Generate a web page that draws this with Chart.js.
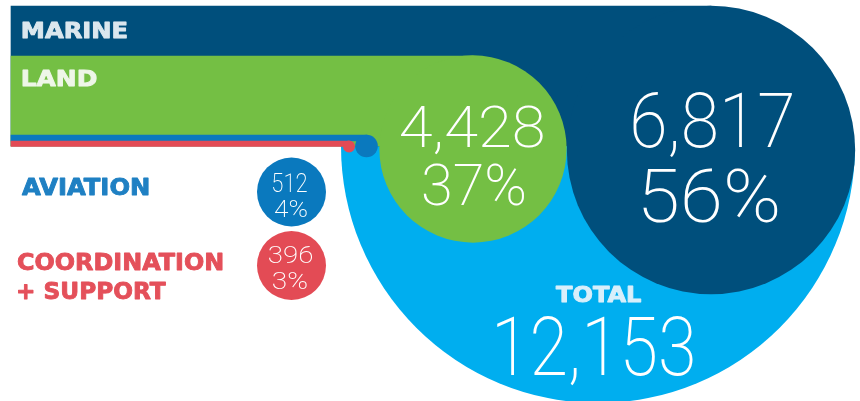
<!DOCTYPE html>
<html>
<head>
<meta charset="utf-8">
<script src="https://cdn.jsdelivr.net/npm/chart.js@4.4.1/dist/chart.umd.min.js"></script>
<style>
  html, body { margin: 0; padding: 0; background: #fff; }
  #wrap { width: 860px; height: 401px; position: relative; }
</style>
</head>
<body>
<div id="wrap"><canvas id="chart"></canvas></div>
<script>
// ---- data ----
const categories = ['Marine', 'Land', 'Aviation', 'Coordination + Support'];
const labelLines = [['MARINE'], ['LAND'], ['AVIATION'], ['COORDINATION', '+ SUPPORT']];
const personnel = [6817, 4428, 512, 396];
const percentLabels = ['56%', '37%', '4%', '3%'];
const totalLabel = 'TOTAL';
const totalValue = 12153;

// ---- styles ----
const fillColors = ['#004f7c', '#74bf44', '#0a79be', '#e34b55'];
const labelColors = ['#dbe7ee', '#eef6e8', '#1f80c3', '#e4505a'];
const totalColor = '#00aeef';
const totalTextColor = '#d8effb';
const LABEL_FONT = '"DejaVu Sans", sans-serif';
const NUM_FONT = 'Roboto, sans-serif';
const NUM_WEIGHT = '200';

// ---- layout (the scales run 1:1 with the 860x401 page) ----
const TOTAL_R = 257;                       // total circle radius, marine/land scale from it
const totalCenter = { x: 598, y: 146 };    // only the lower half is shown
const bigCenters = [{ x: 711, y: 150 }, { x: 473, y: 149 }];
const bandBoxes = [
  { x0: 11, y0: 6, y1: 146 },              // marine band runs into its circle
  { x0: 11, y0: 56, y1: 146 },             // land band
  { x0: 11, x1: 367, y0: 135, y1: 141 },   // aviation line
  { x0: 11, x1: 349, y0: 141, y1: 146.5 }  // coordination line
];
const lineDots = [null, null, { x: 366.5, y: 146, r: 11.3 }, { x: 349, y: 146.5, r: 6 }];
const badges = [null, null, { x: 291.5, y: 192, r: 34.5 }, { x: 291.5, y: 265.5, r: 34.5 }];

// ink boxes for text: [x0, x1, baseline, font size]
const labelBoxes = [[[23, 127, 38, 22]], [[23, 97, 86, 22]], [[22, 149, 195, 23]],
                    [[18, 223, 270, 23], [18, 166, 299, 23]]];
const valueBoxes = [[633, 792, 147, 76], [401, 543, 147, 57], [273, 307, 192, 25], [269, 312, 263, 24]];
const pctBoxes = [[643, 778, 222, 74], [423, 525, 205, 58], [274, 307, 217, 24], [273, 307, 289, 24]];
const totalValueBox = [497, 693, 375, 82];
const totalLabelBox = [556, 641, 302, 21];

function radiusFor(v) {
  return v / totalValue * TOTAL_R;
}

function bubble(label, pt, r, color) {
  return {
    type: 'bubble', label: label,
    data: [{ x: pt.x, y: pt.y, r: r }],
    backgroundColor: color, borderWidth: 0, hoverRadius: 0, hitRadius: 0, clip: false
  };
}

function band(label, box, x1, color) {
  return {
    type: 'bar', label: label, indexAxis: 'y', grouped: false,
    barThickness: box.y1 - box.y0,
    data: [{ x: [box.x0, x1], y: (box.y0 + box.y1) / 2 }],
    backgroundColor: color, borderWidth: 0, borderRadius: 0, clip: false
  };
}

// layers listed bottom to top
const layers = [bubble(totalLabel, totalCenter, TOTAL_R, totalColor)];
for (let i = 0; i < 2; i++) {
  layers.push(band(categories[i] + ' band', bandBoxes[i], bigCenters[i].x, fillColors[i]));
  layers.push(bubble(categories[i], bigCenters[i], radiusFor(personnel[i]), fillColors[i]));
}
for (let i = 2; i < 4; i++) {
  layers.push(band(categories[i] + ' line', bandBoxes[i], bandBoxes[i].x1, fillColors[i]));
}
for (let i = 2; i < 4; i++) {
  layers.push(bubble(categories[i] + ' dot', lineDots[i], lineDots[i].r, fillColors[i]));
}
for (let i = 2; i < 4; i++) {
  layers.push(bubble(categories[i], badges[i], badges[i].r, fillColors[i]));
}
layers.forEach((d, i) => { d.order = layers.length - i; });

// show only the lower half of the total circle
const halfClip = {
  id: 'halfClip',
  beforeDatasetDraw(chart, args) {
    if (chart.data.datasets[args.index].label !== totalLabel) return;
    const y = chart.scales.y.getPixelForValue(totalCenter.y);
    chart.ctx.save();
    chart.ctx.beginPath();
    chart.ctx.rect(0, y, chart.width, chart.height - y);
    chart.ctx.clip();
  },
  afterDatasetDraw(chart, args) {
    if (chart.data.datasets[args.index].label === totalLabel) chart.ctx.restore();
  }
};

// draw text so its ink fills the box measured on the picture
function fitText(chart, text, box, weight, family, color, stroke) {
  const ctx = chart.ctx;
  const xs = chart.scales.x, ys = chart.scales.y;
  const x0 = xs.getPixelForValue(box[0]), x1 = xs.getPixelForValue(box[1]);
  const base = ys.getPixelForValue(box[2]);
  ctx.save();
  ctx.font = weight + ' ' + box[3] + 'px ' + family;
  ctx.textAlign = 'left';
  ctx.textBaseline = 'alphabetic';
  const m = ctx.measureText(text);
  const ink = m.actualBoundingBoxLeft + m.actualBoundingBoxRight;
  const sx = (x1 - x0) / ink;
  ctx.translate(x0 + m.actualBoundingBoxLeft * sx, base);
  ctx.scale(sx, 1);
  ctx.fillStyle = color;
  ctx.fillText(text, 0, 0);
  if (stroke) {
    // heavier look for the stencil-like headings
    ctx.strokeStyle = color;
    ctx.lineWidth = stroke;
    ctx.lineJoin = 'round';
    ctx.strokeText(text, 0, 0);
  }
  ctx.restore();
}

const textPlugin = {
  id: 'texts',
  afterDatasetsDraw(chart) {
    labelLines.forEach((lines, i) => {
      lines.forEach((t, j) => fitText(chart, t, labelBoxes[i][j], '700', LABEL_FONT, labelColors[i], 0.9));
      fitText(chart, personnel[i].toLocaleString('en-US'), valueBoxes[i], NUM_WEIGHT, NUM_FONT, '#ffffff');
      fitText(chart, percentLabels[i], pctBoxes[i], NUM_WEIGHT, NUM_FONT, '#ffffff');
    });
    fitText(chart, totalLabel, totalLabelBox, '700', LABEL_FONT, totalTextColor, 0.9);
    fitText(chart, totalValue.toLocaleString('en-US'), totalValueBox, NUM_WEIGHT, NUM_FONT, '#ffffff');
  }
};

new Chart(document.getElementById('chart'), {
  type: 'bubble',
  data: { datasets: layers },
  options: {
    responsive: true,
    maintainAspectRatio: false,
    animation: false,
    events: [],
    layout: { padding: 0, autoPadding: false },
    plugins: { legend: { display: false }, tooltip: { enabled: false } },
    scales: {
      x: { type: 'linear', min: 0, max: 860, display: false, offset: false },
      y: { type: 'linear', min: 0, max: 401, reverse: true, display: false, offset: false }
    }
  },
  plugins: [halfClip, textPlugin]
});
</script>
</body>
</html>
